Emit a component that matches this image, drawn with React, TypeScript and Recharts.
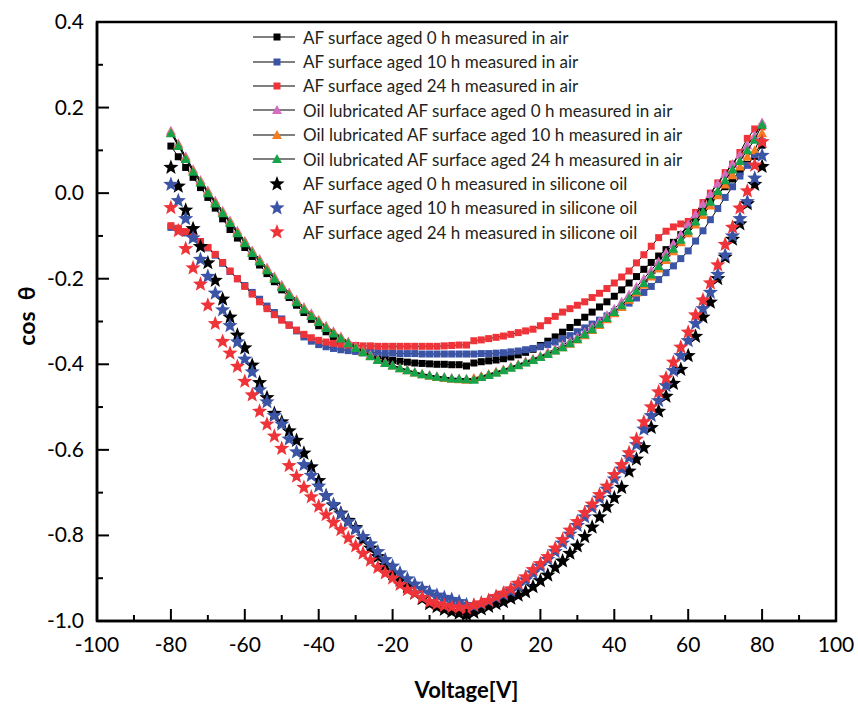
import React from 'react'
import { ScatterChart, Scatter, XAxis, YAxis, ReferenceArea, Legend } from 'recharts'

// voltage steps (V)
const volts = [
  -80, -78, -76, -74, -72, -70, -68, -66, -64, -62,
  -60, -58, -56, -54, -52, -50, -48, -46, -44, -42,
  -40, -38, -36, -34, -32, -30, -28, -26, -24, -22,
  -20, -18, -16, -14, -12, -10, -8, -6, -4, -2,
  0,
  2, 4, 6, 8, 10, 12, 14, 16, 18, 20,
  22, 24, 26, 28, 30, 32, 34, 36, 38, 40,
  42, 44, 46, 48, 50, 52, 54, 56, 58, 60,
  62, 64, 66, 68, 70, 72, 74, 76, 78, 80,
]

// AF surface measured in air (squares)
const air0h = [
  0.11, 0.085, 0.06, 0.037, 0.013, -0.01, -0.035, -0.06, -0.085, -0.105,
  -0.127, -0.148, -0.168, -0.188, -0.207, -0.226, -0.244, -0.262, -0.279, -0.295,
  -0.31, -0.324, -0.337, -0.348, -0.358, -0.366, -0.373, -0.379, -0.384, -0.388,
  -0.391, -0.393, -0.395, -0.397, -0.398, -0.399, -0.4, -0.4, -0.401, -0.401,
  -0.404,
  -0.397, -0.394, -0.392, -0.39, -0.387, -0.383, -0.378, -0.372, -0.365, -0.356,
  -0.346, -0.336, -0.325, -0.314, -0.302, -0.29, -0.278, -0.266, -0.254, -0.241,
  -0.226, -0.21, -0.195, -0.178, -0.162, -0.147, -0.132, -0.115, -0.097, -0.078,
  -0.058, -0.038, -0.02, -0.003, 0.015, 0.033, 0.05, 0.067, 0.086, 0.112,
]
const air10h = [
  -0.08, -0.085, -0.093, -0.103, -0.115, -0.128, -0.145, -0.164, -0.183, -0.2,
  -0.216, -0.232, -0.248, -0.264, -0.279, -0.294, -0.308, -0.322, -0.336, -0.346,
  -0.354, -0.359, -0.363, -0.366, -0.368, -0.37, -0.371, -0.372, -0.373, -0.374,
  -0.374, -0.375, -0.375, -0.375, -0.376, -0.376, -0.376, -0.376, -0.376, -0.376,
  -0.376,
  -0.376, -0.375, -0.375, -0.374, -0.373, -0.371, -0.369, -0.366, -0.363, -0.359,
  -0.354, -0.348, -0.341, -0.333, -0.324, -0.315, -0.306, -0.297, -0.287, -0.277,
  -0.267, -0.257, -0.245, -0.232, -0.218, -0.202, -0.186, -0.17, -0.153, -0.135,
  -0.112, -0.088, -0.062, -0.036, -0.01, 0.015, 0.04, 0.065, 0.09, 0.12,
]
const air24h = [
  -0.076, -0.082, -0.09, -0.1, -0.113, -0.127, -0.143, -0.162, -0.182, -0.2,
  -0.218, -0.236, -0.254, -0.27, -0.284, -0.297, -0.309, -0.32, -0.33, -0.338,
  -0.344, -0.348, -0.351, -0.353, -0.355, -0.356, -0.357, -0.357, -0.358, -0.358,
  -0.358, -0.358, -0.358, -0.358, -0.358, -0.358, -0.358, -0.357, -0.356, -0.355,
  -0.355,
  -0.345, -0.343, -0.34, -0.337, -0.334, -0.33, -0.326, -0.322, -0.318, -0.31,
  -0.298, -0.288, -0.278, -0.27, -0.262, -0.254, -0.244, -0.234, -0.223, -0.21,
  -0.196, -0.182, -0.163, -0.144, -0.124, -0.104, -0.089, -0.079, -0.072, -0.066,
  -0.045, -0.022, 0.0, 0.024, 0.048, 0.068, 0.095, 0.128, 0.15, 0.155,
]

// oil lubricated AF surface measured in air (triangles)
const oil0h = [
  0.146, 0.116, 0.086, 0.056, 0.031, 0.006, -0.018, -0.041, -0.064, -0.088,
  -0.111, -0.134, -0.154, -0.174, -0.194, -0.214, -0.232, -0.249, -0.266, -0.281,
  -0.296, -0.31, -0.323, -0.335, -0.347, -0.358, -0.369, -0.378, -0.388, -0.395,
  -0.402, -0.408, -0.413, -0.418, -0.422, -0.425, -0.428, -0.43, -0.432, -0.433,
  -0.434,
  -0.434, -0.428, -0.423, -0.418, -0.412, -0.406, -0.4, -0.393, -0.387, -0.38,
  -0.372, -0.364, -0.355, -0.346, -0.336, -0.325, -0.312, -0.299, -0.285, -0.27,
  -0.254, -0.237, -0.219, -0.2, -0.18, -0.16, -0.139, -0.118, -0.096, -0.073,
  -0.05, -0.026, -0.002, 0.022, 0.045, 0.068, 0.09, 0.112, 0.135, 0.165,
]
const oil10h = [
  0.142, 0.113, 0.083, 0.053, 0.028, 0.003, -0.021, -0.044, -0.067, -0.091,
  -0.114, -0.137, -0.157, -0.177, -0.197, -0.217, -0.235, -0.252, -0.269, -0.284,
  -0.298, -0.312, -0.325, -0.337, -0.349, -0.36, -0.37, -0.38, -0.389, -0.397,
  -0.403, -0.409, -0.414, -0.419, -0.423, -0.427, -0.43, -0.432, -0.434, -0.435,
  -0.436,
  -0.432, -0.428, -0.423, -0.418, -0.413, -0.407, -0.401, -0.395, -0.389, -0.382,
  -0.375, -0.368, -0.36, -0.352, -0.342, -0.332, -0.32, -0.308, -0.295, -0.281,
  -0.266, -0.249, -0.232, -0.214, -0.195, -0.176, -0.156, -0.136, -0.115, -0.094,
  -0.073, -0.051, -0.029, -0.005, 0.02, 0.042, 0.062, 0.085, 0.1, 0.14,
]
const oil24h = [
  0.14, 0.11, 0.08, 0.05, 0.025, 0.0, -0.024, -0.047, -0.07, -0.094,
  -0.117, -0.14, -0.16, -0.18, -0.2, -0.22, -0.238, -0.255, -0.272, -0.287,
  -0.301, -0.315, -0.328, -0.34, -0.351, -0.362, -0.372, -0.381, -0.39, -0.397,
  -0.403, -0.409, -0.414, -0.419, -0.423, -0.426, -0.429, -0.431, -0.433, -0.434,
  -0.435,
  -0.436, -0.43, -0.425, -0.42, -0.414, -0.408, -0.402, -0.396, -0.39, -0.383,
  -0.376, -0.368, -0.36, -0.351, -0.341, -0.33, -0.318, -0.305, -0.292, -0.278,
  -0.262, -0.245, -0.228, -0.21, -0.19, -0.17, -0.15, -0.13, -0.109, -0.088,
  -0.066, -0.043, -0.02, 0.005, 0.03, 0.055, 0.075, 0.1, 0.125, 0.16,
]

// AF surface measured in silicone oil (stars)
const si0h = [
  0.06, 0.016, -0.04, -0.083, -0.125, -0.163, -0.204, -0.248, -0.29, -0.332,
  -0.362, -0.402, -0.443, -0.478, -0.515, -0.535, -0.556, -0.578, -0.608, -0.64,
  -0.672, -0.708, -0.73, -0.748, -0.765, -0.782, -0.81, -0.83, -0.85, -0.87,
  -0.89, -0.905, -0.92, -0.935, -0.948, -0.96, -0.967, -0.973, -0.978, -0.982,
  -0.985,
  -0.98, -0.972, -0.966, -0.96, -0.955, -0.947, -0.94, -0.932, -0.92, -0.906,
  -0.893, -0.875, -0.86, -0.842, -0.825, -0.803, -0.781, -0.757, -0.733, -0.712,
  -0.688, -0.65, -0.622, -0.595, -0.548, -0.51, -0.475, -0.445, -0.412, -0.38,
  -0.335, -0.29, -0.255, -0.2, -0.15, -0.108, -0.072, -0.025, 0.02, 0.062,
]
const si10h = [
  0.02, -0.018, -0.06, -0.105, -0.155, -0.195, -0.234, -0.273, -0.31, -0.348,
  -0.388, -0.418, -0.46, -0.488, -0.52, -0.54, -0.575, -0.605, -0.635, -0.66,
  -0.685, -0.708, -0.728, -0.75, -0.768, -0.785, -0.803, -0.82, -0.838, -0.857,
  -0.872, -0.888, -0.902, -0.914, -0.924, -0.933, -0.94, -0.945, -0.95, -0.955,
  -0.962,
  -0.965, -0.96, -0.953, -0.945, -0.938, -0.93, -0.918, -0.904, -0.888, -0.872,
  -0.856, -0.838, -0.818, -0.797, -0.777, -0.757, -0.735, -0.713, -0.692, -0.668,
  -0.645, -0.618, -0.588, -0.552, -0.52, -0.485, -0.45, -0.415, -0.38, -0.345,
  -0.305, -0.27, -0.232, -0.19, -0.145, -0.1, -0.06, -0.02, 0.035, 0.088,
]
const si24h = [
  -0.034, -0.088, -0.13, -0.175, -0.213, -0.262, -0.305, -0.347, -0.374, -0.405,
  -0.44, -0.472, -0.51, -0.54, -0.568, -0.597, -0.637, -0.662, -0.688, -0.71,
  -0.732, -0.752, -0.77, -0.787, -0.806, -0.825, -0.842, -0.858, -0.875, -0.888,
  -0.9, -0.915, -0.927, -0.935, -0.945, -0.955, -0.96, -0.964, -0.967, -0.968,
  -0.97,
  -0.963, -0.958, -0.952, -0.943, -0.935, -0.925, -0.912, -0.897, -0.88, -0.866,
  -0.85, -0.83, -0.81, -0.788, -0.768, -0.747, -0.727, -0.705, -0.685, -0.658,
  -0.635, -0.607, -0.575, -0.535, -0.5, -0.465, -0.432, -0.395, -0.36, -0.325,
  -0.285, -0.25, -0.21, -0.168, -0.12, -0.08, -0.035, 0.005, 0.065, 0.12,
]

const xTicks = [-100, -90, -80, -70, -60, -50, -40, -30, -20, -10, 0, 10, 20, 30, 40, 50, 60, 70, 80, 90, 100]
const yTicks = [-1, -0.9, -0.8, -0.7, -0.6, -0.5, -0.4, -0.3, -0.2, -0.1, 0, 0.1, 0.2, 0.3, 0.4]

type Kind = 'square' | 'triangle' | 'star'
const series: { name: string; color: string; kind: Kind; values: number[] }[] = [
  { name: 'AF surface aged 0 h measured in air', color: '#000000', kind: 'square', values: air0h },
  { name: 'AF surface aged 10 h measured in air', color: '#3b54a6', kind: 'square', values: air10h },
  { name: 'AF surface aged 24 h measured in air', color: '#ee3439', kind: 'square', values: air24h },
  { name: 'Oil lubricated AF surface aged 0 h measured in air', color: '#d56cc0', kind: 'triangle', values: oil0h },
  { name: 'Oil lubricated AF surface aged 10 h measured in air', color: '#f47d22', kind: 'triangle', values: oil10h },
  { name: 'Oil lubricated AF surface aged 24 h measured in air', color: '#17a34a', kind: 'triangle', values: oil24h },
  { name: 'AF surface aged 0 h measured in silicone oil', color: '#000000', kind: 'star', values: si0h },
  { name: 'AF surface aged 10 h measured in silicone oil', color: '#3b54a6', kind: 'star', values: si10h },
  { name: 'AF surface aged 24 h measured in silicone oil', color: '#ee3439', kind: 'star', values: si24h },
]

const W = 858
const H = 704
const PLOT_LEFT = 97
const PLOT_BOTTOM = 621
const FONT = 'Lato, "Open Sans", sans-serif'

const starPath = (cx: number, cy: number, R: number, r: number) => {
  let d = ''
  for (let i = 0; i < 10; i++) {
    const rad = i % 2 === 0 ? R : r
    const a = -Math.PI / 2 + (i * Math.PI) / 5
    d += (i === 0 ? 'M' : 'L') + (cx + rad * Math.cos(a)).toFixed(2) + ',' + (cy + rad * Math.sin(a)).toFixed(2)
  }
  return d + 'Z'
}

const Marker = ({ kind, color, cx, cy }: { kind: Kind; color: string; cx: number; cy: number }) => {
  if (kind === 'square') return <rect x={cx - 3.5} y={cy - 3.5} width={7} height={7} fill={color} />
  if (kind === 'triangle')
    return <polygon points={`${cx},${cy - 5} ${cx + 5},${cy + 4} ${cx - 5},${cy + 4}`} fill={color} />
  return <path d={starPath(cx, cy, 8, 3.4)} fill={color} />
}

const XTick = ({ x, payload }: any) => {
  const v = payload.value
  const major = v % 20 === 0
  return (
    <g>
      <line x1={x} x2={x} y1={PLOT_BOTTOM} y2={PLOT_BOTTOM - (major ? 12 : 6)} stroke="#000" strokeWidth={2} />
      {major && (
        <text x={x} y={652} textAnchor="middle" fontFamily={FONT} fontSize={21} fill="#000">{v}</text>
      )}
    </g>
  )
}

const YTick = ({ y, payload }: any) => {
  const v = payload.value
  const major = Math.round(v * 10) % 2 === 0
  return (
    <g>
      <line x1={PLOT_LEFT} x2={PLOT_LEFT + (major ? 12 : 6)} y1={y} y2={y} stroke="#000" strokeWidth={2} />
      {major && (
        <text x={84} y={y + 7} textAnchor="end" fontFamily={FONT} fontSize={21} fill="#000">{v.toFixed(1)}</text>
      )}
    </g>
  )
}

const LegendBox = () => (
  <div style={{ fontFamily: FONT, fontSize: 17, color: '#231f20', lineHeight: 1 }}>
    {series.map(s => (
      <div key={s.name} style={{ display: 'flex', alignItems: 'center', height: 24.4, whiteSpace: 'nowrap' }}>
        <svg width={50} height={20} style={{ flex: 'none' }}>
          {s.kind !== 'star' && <line x1={0} x2={42} y1={10} y2={10} stroke="#000" strokeWidth={1.2} />}
          <Marker kind={s.kind} color={s.color} cx={24} cy={10} />
        </svg>
        <span>{s.name}</span>
      </div>
    ))}
  </div>
)

export default function App() {
  return (
    <div style={{ position: 'absolute', left: 0, top: 0, background: '#fff' }}>
      <ScatterChart width={W} height={H} margin={{ top: 22, right: 22, left: 37, bottom: 53 }}>
        <XAxis
          type="number" dataKey="x" domain={[-100, 100]} ticks={xTicks} interval={0} height={30}
          axisLine={{ stroke: '#000', strokeWidth: 2.5 }} tickLine={false} tick={<XTick />}
          label={{
            content: () => (
              <text x={466.5} y={698} textAnchor="middle" fontFamily={FONT} fontWeight={700} fontSize={22} fill="#000">Voltage[V]</text>
            ),
          }}
        />
        <YAxis
          type="number" dataKey="y" domain={[-1, 0.4]} ticks={yTicks} interval={0} width={60}
          axisLine={{ stroke: '#000', strokeWidth: 2.5 }} tickLine={false} tick={<YTick />}
          label={{
            content: () => (
              <text transform="translate(35,316) rotate(-90)" textAnchor="middle" fontFamily={FONT} fontWeight={700} fontSize={23} fill="#000">{'cos\u00a0\u00a0θ'}</text>
            ),
          }}
        />
        <ReferenceArea x1={-100} x2={100} y1={-1} y2={0.4} fill="none" stroke="#000" strokeWidth={2.5} />
        {series.map(s => (
          <Scatter
            key={s.name}
            name={s.name}
            data={volts.map((x, i) => ({ x, y: s.values[i] }))}
            line={s.kind === 'star' ? false : { stroke: '#000', strokeWidth: 1 }}
            shape={(p: any) => <Marker kind={s.kind} color={s.color} cx={p.cx} cy={p.cy} />}
            isAnimationActive={false}
          />
        ))}
        <Legend
          layout="horizontal" verticalAlign="middle" align="center"
          content={<LegendBox />}
          wrapperStyle={{ left: 253, top: 25, width: 'auto', height: 'auto' }}
        />
      </ScatterChart>
    </div>
  )
}
